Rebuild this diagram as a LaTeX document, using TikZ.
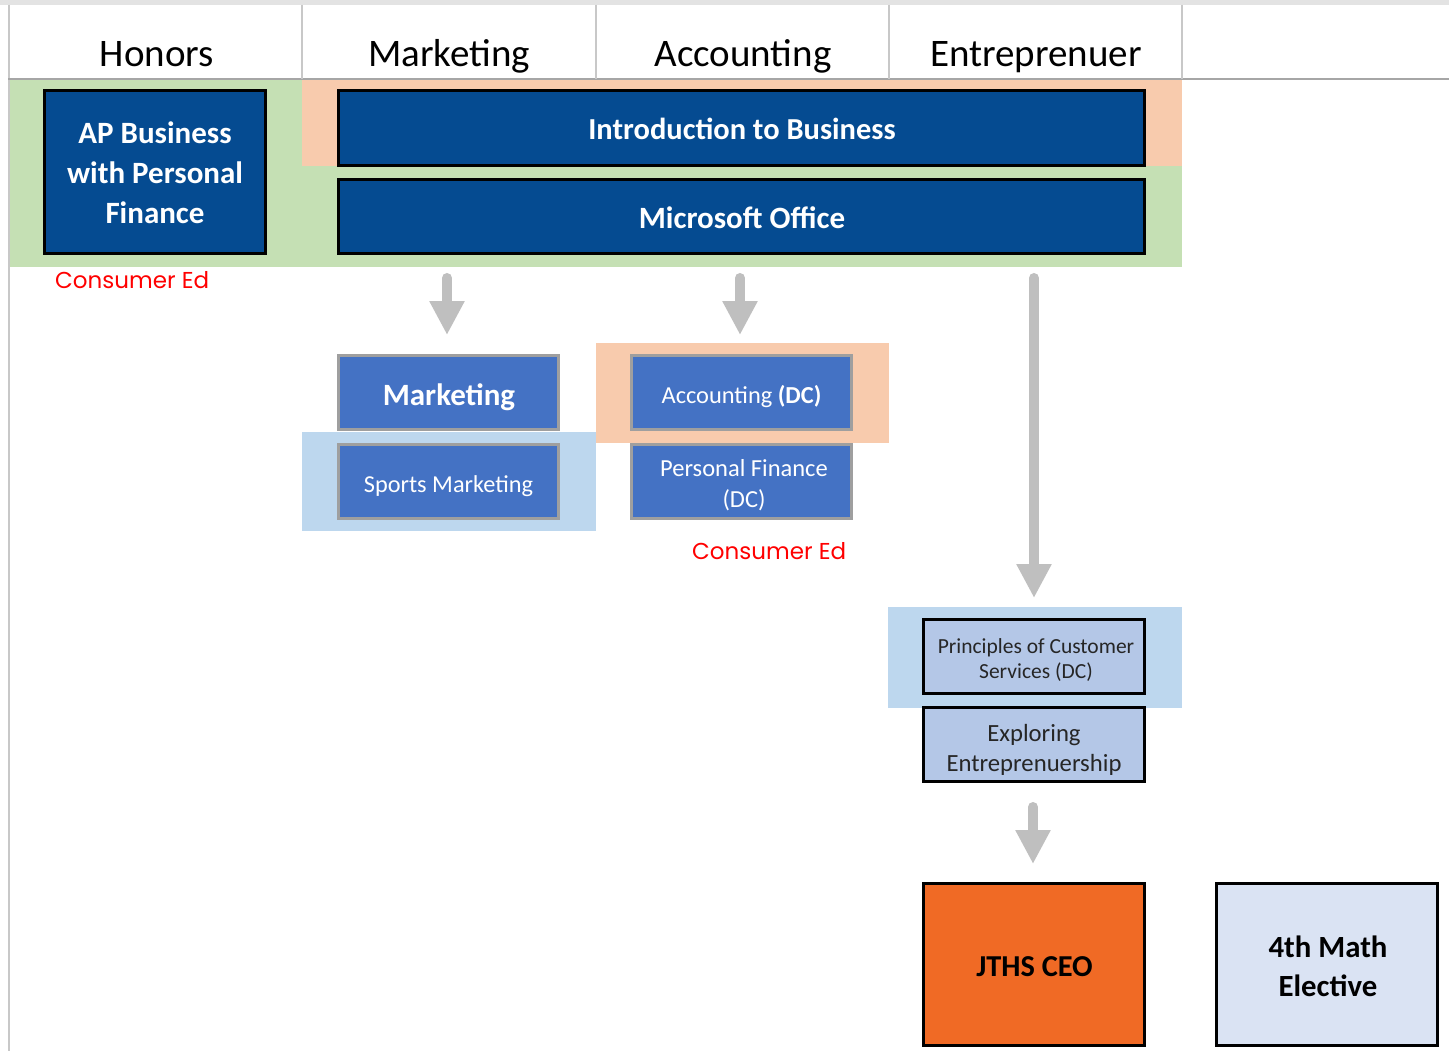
\documentclass[tikz,border=0pt]{standalone}
\usepackage{fontspec}
\setmainfont{Carlito}
\newfontfamily\handfont{Poppins}
\usetikzlibrary{arrows.meta}
\definecolor{dkblue}{HTML}{054B91}
\definecolor{mdblue}{HTML}{4472C4}
\definecolor{peach}{HTML}{F8CBAD}
\definecolor{lgreen}{HTML}{C5E0B4}
\definecolor{lblue}{HTML}{BDD7EE}
\definecolor{peri}{HTML}{B4C7E7}
\definecolor{orng}{HTML}{F06A25}
\definecolor{pale}{HTML}{DAE3F3}
\definecolor{arrowgray}{HTML}{BFBFBF}
\definecolor{gridgray}{HTML}{C8C8C8}
\definecolor{consred}{HTML}{FF0000}
\tikzset{
  hdr/.style={font=\fontsize{39}{40}\selectfont, text=black, inner sep=0pt, anchor=base},
  txt/.style={inner sep=0pt, align=center, anchor=base},
  darkbox/.style={draw=black, line width=3pt, fill=dkblue, inner sep=0pt},
  midbox/.style={draw=gray!75, line width=3pt, fill=mdblue, inner sep=0pt,
    minimum width=220pt, minimum height=74pt},
  lightbox/.style={draw=black, line width=3pt, fill=peri, inner sep=0pt,
    minimum width=221pt, minimum height=74pt},
  bigbox/.style={draw=black, line width=3pt, inner sep=0pt,
    minimum width=221pt, minimum height=162pt},
  flowarrow/.style={draw=arrowgray, line width=10pt, line cap=round,
    -{Triangle[width=33pt,length=34pt]}},
  conslabel/.style={text=consred, font=\handfont\fontsize{23}{24}\selectfont, inner sep=0pt, anchor=base west},
}
\begin{document}
\begin{tikzpicture}[x=1pt,y=-1pt]
\useasboundingbox (0,0) rectangle (1449,1051);
\fill[white] (0,0) rectangle (1449,1051);
\fill[gray!22] (0,0) rectangle (1449,5);
% bands
\fill[lgreen] (10,80) rectangle (1182,267);
\fill[peach] (302,80) rectangle (1182,166);
\fill[peach] (596,343) rectangle (889,443);
\fill[lblue] (302,432) rectangle (596,531);
\fill[lblue] (888,607) rectangle (1182,708);
% grid lines
\draw[gridgray, line width=2pt] (9,5) -- (9,1051);
\draw[gray!70, line width=1.5pt] (8,79) -- (1449,79);
\foreach \x in {302,596,889,1182} \draw[gridgray, line width=1.2pt] (\x,5) -- (\x,79);
% headers
\node[hdr] (h1) at (157,67) {Honors};
\node[hdr] (h2) at (449,67) {Marketing};
\node[hdr] (h3) at (743,67) {Accounting};
\node[hdr] (h4) at (1036,67) {Entreprenuer};
% top boxes
\node[darkbox, minimum width=221pt, minimum height=163pt] (ap) at (155,172) {};
\node[darkbox, minimum width=806pt, minimum height=75pt] (intro) at (741.5,128) {};
\node[darkbox, minimum width=806pt, minimum height=74pt] (ms) at (741.5,216.5) {};
\node[txt, text=white, font=\bfseries\fontsize{31}{40}\selectfont] (ap-t) at (155,224) {AP Business\\with Personal\\Finance};
\node[txt, text=white, font=\bfseries\fontsize{30.5}{40}\selectfont] (intro-t) at (742,140) {Introduction to Business};
\node[txt, text=white, font=\bfseries\fontsize{31}{40}\selectfont] (ms-t) at (742,229) {Microsoft Office};
\node[conslabel] (ce1) at (55,288) {Consumer Ed};
% middle boxes
\node[midbox] (mkt) at (448.5,392.5) {};
\node[midbox] (sports) at (448.5,481) {};
\node[midbox] (acct) at (741,392.5) {};
\node[midbox] (pf) at (741,481) {};
\node[txt, text=white, font=\bfseries\fontsize{31}{34}\selectfont] (mkt-t) at (449,405) {Marketing};
\node[txt, text=white, font=\fontsize{24.3}{31}\selectfont] (sports-t) at (448.5,492) {Sports Marketing};
\node[txt, text=white, font=\fontsize{24.4}{31}\selectfont] (acct-t) at (741.5,403) {Accounting \textbf{(DC)}};
\node[txt, text=white, font=\fontsize{24.5}{31}\selectfont] (pf-t) at (744,507) {Personal Finance\\(DC)};
\node[conslabel] (ce2) at (692,559) {Consumer Ed};
% entrepreneur column
\node[lightbox] (pcs) at (1034,656.5) {};
\node[lightbox] (expl) at (1034,744.5) {};
\node[bigbox, fill=orng] (ceo) at (1034,964.5) {};
\node[bigbox, fill=pale] (math) at (1327,964.5) {};
\node[txt, text=black!85, font=\fontsize{21.5}{25}\selectfont] (pcs-t) at (1036,678) {Principles of Customer\\Services (DC)};
\node[txt, text=black!85, font=\fontsize{24.7}{29.5}\selectfont] (expl-t) at (1034,771) {Exploring\\Entreprenuership};
\node[txt, font=\bfseries\fontsize{30.4}{40}\selectfont] (ceo-t) at (1034.5,976) {JTHS CEO};
\node[txt, font=\bfseries\fontsize{30.8}{39}\selectfont] (math-t) at (1328,996) {4th Math\\Elective};
% arrows
\coordinate (a1s) at (447,278);
\coordinate (a1e) at (447,335);
\coordinate (a2s) at (740,278);
\coordinate (a2e) at (740,335);
\coordinate (a3s) at (1034,278);
\coordinate (a3e) at (1034,598);
\coordinate (a4s) at (1033,807);
\coordinate (a4e) at (1033,864);
\draw[flowarrow] (a1s) -- (a1e);
\draw[flowarrow] (a2s) -- (a2e);
\draw[flowarrow] (a3s) -- (a3e);
\draw[flowarrow] (a4s) -- (a4e);
\end{tikzpicture}
\end{document}
